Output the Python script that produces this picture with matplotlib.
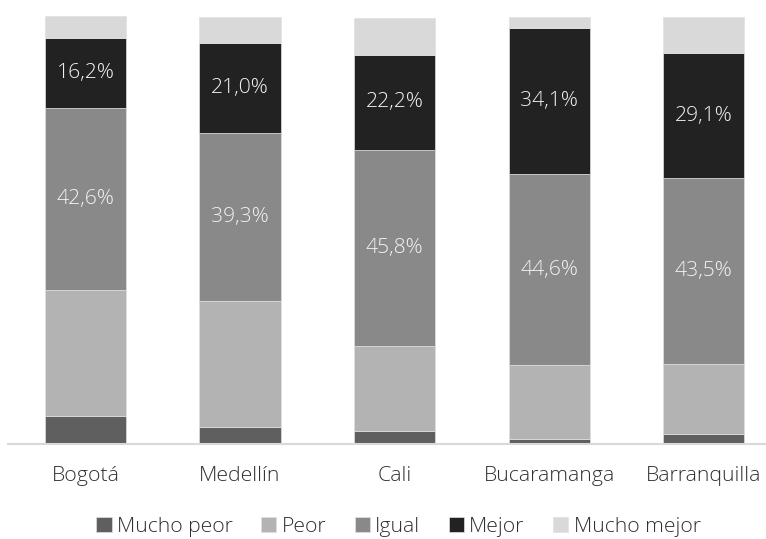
import matplotlib
matplotlib.use("Agg")
import matplotlib.pyplot as plt
import numpy as np

plt.rcParams['font.family'] = ['Open Sans', 'DejaVu Sans']
plt.rcParams['font.weight'] = 'light'

cities = ["Bogotá", "Medellín", "Cali", "Bucaramanga", "Barranquilla"]
series_names = ["Mucho peor", "Peor", "Igual", "Mejor", "Mucho mejor"]
mucho_peor = [6.6, 4.0, 3.0, 1.2, 2.3]
peor = [29.4, 29.4, 19.9, 17.2, 16.4]
igual = [42.6, 39.3, 45.8, 44.6, 43.5]
mejor = [16.2, 21.0, 22.2, 34.1, 29.1]
mucho_mejor = [5.1, 6.1, 8.7, 2.6, 8.5]
labeled = [False, False, True, True, False]

colors = ["#5f5f5f", "#b3b3b3", "#898989", "#222222", "#d9d9d9"]
data = [mucho_peor, peor, igual, mejor, mucho_mejor]

fig = plt.figure(figsize=(7.66, 5.39), dpi=100)
ax = fig.add_axes([8.2 / 766, 1 - 444 / 539, 1 - 8.2 / 766, 428 / 539])
x = np.arange(len(cities))
bottom = np.zeros(len(cities))
for name, vals, col, lab in zip(series_names, data, colors, labeled):
    vals = np.array(vals)
    ax.bar(x, vals, width=0.525, bottom=bottom, color=col, label=name,
           edgecolor="#e0e0e0", linewidth=0.5, zorder=2)
    if lab:
        for xi, b, v in zip(x, bottom, vals):
            ax.text(xi, b + v / 2, f"{v:.1f}%".replace(".", ","), ha="center",
                    va="center", color="#f2f2f2", fontsize=15.2)
    bottom += vals

ax.set_ylim(0, 100)
ax.set_xlim(-0.5, 4.5 - (781 - 766) / 154.6)
ax.set_xticks(x)
ax.set_xticklabels(cities, fontsize=15.3, color="#303030")
ax.tick_params(axis="x", length=0, pad=16)
ax.set_yticks([])
for s in ["top", "right", "left"]:
    ax.spines[s].set_visible(False)
ax.spines["bottom"].set_color("#d9d9d9")
ax.spines["bottom"].set_linewidth(1.5)

fig.legend(loc="center", bbox_to_anchor=(398.5 / 766, 1 - 527 / 539), ncol=5,
           frameon=False, fontsize=15.2, handlelength=0.72, handleheight=0.72,
           handletextpad=0.25, columnspacing=1.35, labelcolor="#303030",
           borderpad=0, borderaxespad=0)

fig.savefig("out.png", dpi=100, facecolor="white")
